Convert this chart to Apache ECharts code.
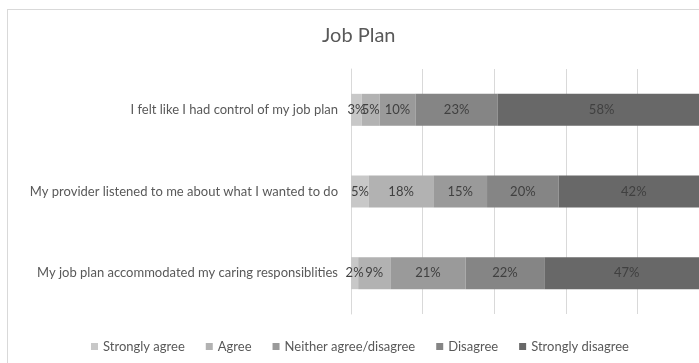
<!DOCTYPE html>
<html>
<head>
<meta charset="utf-8">
<script src="https://cdn.jsdelivr.net/npm/echarts@6/dist/echarts.min.js"></script>
<style>
  html, body { margin: 0; padding: 0; background: #fff; overflow: hidden; width: 699px; height: 363px; }
  #frame { position: absolute; left: 7px; top: 9px; border: 1px solid #d9d9d9; background: #fff; }
  #chart { width: 712px; height: 360px; }
</style>
</head>
<body>
<div id="frame"><div id="chart"></div></div>
<script>
// Survey statements (top to bottom)
const categories = [
  'I felt like I had control of my job plan',
  'My provider listened to me about what I wanted to do',
  'My job plan accommodated my caring responsiblities'
];
// Response shares, in percent, per statement
const stronglyAgree    = [3, 5, 2];
const agree            = [5, 18, 9];
const neither          = [10, 15, 21];
const disagree         = [23, 20, 22];
const stronglyDisagree = [58, 42, 47];

const seriesNames = ['Strongly agree', 'Agree', 'Neither agree/disagree', 'Disagree', 'Strongly disagree'];
const seriesData = [stronglyAgree, agree, neither, disagree, stronglyDisagree];
const colors = ['#c8c8c8', '#b2b2b2', '#9a9a9a', '#858585', '#686868'];

const font = 'Lato, "Open Sans", sans-serif';

const chart = echarts.init(document.getElementById('chart'));
chart.setOption({
  animation: false,
  color: colors,
  textStyle: { fontFamily: font },
  title: {
    text: 'Job Plan',
    left: 309,
    top: 11,
    textStyle: { fontFamily: font, fontSize: 20, fontWeight: 'normal', color: '#595959' }
  },
  legend: {
    bottom: 12,
    left: 78,
    icon: 'rect',
    itemWidth: 7,
    itemHeight: 7,
    itemGap: 21,
    textStyle: { fontFamily: font, fontSize: 13, color: '#595959' },
    data: seriesNames
  },
  grid: {
    left: 343, top: 59, width: 358, height: 245,
    outerBoundsMode: 'none'
  },
  xAxis: {
    type: 'value',
    min: 0, max: 100, interval: 20,
    axisLabel: { show: false },
    axisLine: { show: false },
    axisTick: { show: false },
    splitLine: { lineStyle: { color: '#d9d9d9', width: 1 } }
  },
  yAxis: {
    type: 'category',
    inverse: true,
    data: categories,
    axisTick: { show: false },
    axisLine: { lineStyle: { color: '#d9d9d9' } },
    axisLabel: { fontFamily: font, fontSize: 13, color: '#595959', margin: 13 }
  },
  series: seriesNames.map((name, i) => ({
    name,
    type: 'bar',
    stack: 'total',
    barWidth: 32,
    data: seriesData[i],
    label: {
      show: true,
      position: 'inside',
      formatter: '{c}%',
      fontFamily: font,
      fontSize: 13,
      color: '#404040'
    }
  }))
});
</script>
</body>
</html>
